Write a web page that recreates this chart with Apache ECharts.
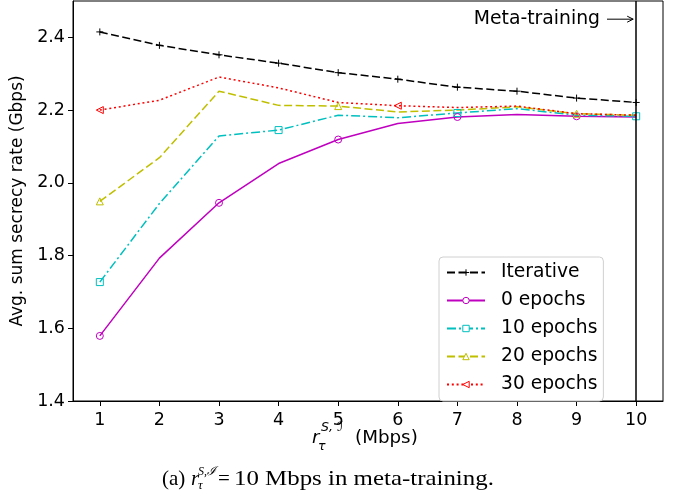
<!DOCTYPE html>
<html>
<head>
<meta charset="utf-8">
<script src="https://cdn.jsdelivr.net/npm/echarts@6/dist/echarts.min.js"></script>
<style>
  html, body { margin: 0; padding: 0; background: #fff; }
  #chart { width: 678px; height: 497px; }
</style>
</head>
<body>
<div id="chart"></div>
<script>
// Sum secrecy rate versus the per-user rate requirement, for the iterative
// baseline and the meta-learned policy after several fine-tuning epochs.
const rates = [1, 2, 3, 4, 5, 6, 7, 8, 9, 10];
const iterative = [2.415, 2.378, 2.352, 2.329, 2.303, 2.285, 2.263, 2.252, 2.233, 2.221];
const epochs0  = [1.579, 1.793, 1.945, 2.053, 2.119, 2.163, 2.181, 2.188, 2.183, 2.181];
const epochs10 = [1.727, 1.943, 2.129, 2.145, 2.186, 2.179, 2.192, 2.204, 2.186, 2.183];
const epochs20 = [1.949, 2.069, 2.252, 2.213, 2.211, 2.195, 2.200, 2.209, 2.190, 2.186];
const epochs30 = [2.200, 2.227, 2.291, 2.261, 2.221, 2.212, 2.207, 2.211, 2.190, 2.186];
const seriesNames = ['Iterative', '0 epochs', '10 epochs', '20 epochs', '30 epochs'];
const xTicks = [1, 2, 3, 4, 5, 6, 7, 8, 9, 10];
const yTicks = [1.4, 1.6, 1.8, 2.0, 2.2, 2.4];
const metaTrainingRate = 10;

const FONT = 'DejaVu Sans';
const SERIF = 'Liberation Serif';
const plus = 'path://M5,0L5,10M0,5L10,5';

function pts(ys) { return rates.map((x, i) => [x, ys[i]]); }

// Marker only on every n-th point.
function every(n, size) {
  return (v, p) => (p.dataIndex % n === 0 ? size : 0);
}

function lineSeries(name, ys, color, dash, symbol, n, size, extra) {
  return Object.assign({
    type: 'line',
    name: name,
    data: pts(ys),
    symbol: symbol,
    symbolSize: every(n, size),
    showAllSymbol: true,
    lineStyle: { color: color, width: 1.5, type: dash },
    itemStyle: { color: 'transparent', borderColor: color, borderWidth: 1 },
    emphasis: { disabled: true },
    z: 3
  }, extra || {});
}

const chart = echarts.init(document.getElementById('chart'), null, { renderer: 'canvas' });

const option = {
  animation: false,
  backgroundColor: '#fff',
  grid: {
    left: 73, right: 15, top: 1, bottom: 96,
    show: true, borderColor: '#000', borderWidth: 1, backgroundColor: 'transparent'
  },
  xAxis: {
    type: 'value', min: 0.55, max: 10.45,
    axisLine: { show: true, lineStyle: { color: '#000', width: 1 } },
    axisTick: { show: true, length: 5, customValues: xTicks, lineStyle: { color: '#000' } },
    axisLabel: { customValues: xTicks, color: '#000', fontFamily: FONT, fontSize: 17.5, margin: 10 },
    splitLine: { show: false }
  },
  yAxis: {
    type: 'value', min: 1.4, max: 2.5,
    axisLine: { show: true, lineStyle: { color: '#000', width: 1 } },
    axisTick: { show: true, length: 5, customValues: yTicks, lineStyle: { color: '#000' } },
    axisLabel: {
      customValues: yTicks, color: '#000', fontFamily: FONT, fontSize: 17.5, margin: 8,
      formatter: v => v.toFixed(1)
    },
    splitLine: { show: false },
    name: 'Avg. sum secrecy rate (Gbps)',
    nameLocation: 'middle', nameGap: 46,
    nameTextStyle: { color: '#000', fontFamily: FONT, fontSize: 17 }
  },
  legend: {
    orient: 'vertical', left: 439, top: 257,
    data: seriesNames,
    itemWidth: 38, itemHeight: 8, itemGap: 9,
    padding: [6, 6, 7, 7],
    borderColor: '#d0d0d0', borderWidth: 1, borderRadius: 4,
    backgroundColor: 'rgba(255,255,255,0.8)',
    itemStyle: { color: '#fff', borderWidth: 1 },
    textStyle: { color: '#000', fontFamily: FONT, fontSize: 18.7, lineHeight: 18, padding: [0, 0, 0, 11] },
    selectedMode: false
  },
  series: [
    lineSeries('Iterative', iterative, '#000000', [8, 3.5], plus, 1, 7, {
      markLine: {
        silent: true, symbol: ['none', 'none'], label: { show: false },
        lineStyle: { color: '#000', width: 1.5, type: 'solid' },
        data: [{ xAxis: metaTrainingRate }]
      }
    }),
    lineSeries('0 epochs', epochs0, '#bf00bf', 'solid', 'circle', 2, 7),
    lineSeries('10 epochs', epochs10, '#00bfbf', [9, 3, 2, 3], 'rect', 3, 7),
    lineSeries('20 epochs', epochs20, '#bfbf00', [8, 3.5], 'triangle', 4, 7),
    lineSeries('30 epochs', epochs30, '#ff0000', [2, 2.8], 'triangle', 5, 7, { symbolRotate: 90 })
  ]
};
chart.setOption(option);

// Annotation arrow pointing at the meta-training rate, axis title and caption.
const tip = chart.convertToPixel({ gridIndex: 0 }, [metaTrainingRate, 2.45]);
const ax = tip[0] - 3, ay = tip[1];

function txt(x, y, s, font, sx) {
  return { type: 'text', x: x, y: y, scaleX: sx || 1, style: { text: s, font: font, fill: '#000', verticalAlign: 'middle' } };
}
const sans = sz => sz + 'px "' + FONT + '"';
const sansIt = sz => 'italic ' + sz + 'px "' + FONT + '"';
const serif = sz => sz + 'px "' + SERIF + '"';
const serifIt = sz => 'italic ' + sz + 'px "' + SERIF + '"';

chart.setOption({
  graphic: [
    { type: 'text', x: 600, y: ay, style: { text: 'Meta-training', font: sans(18.8), fill: '#000', align: 'right', verticalAlign: 'middle' } },
    { type: 'line', shape: { x1: 607, y1: ay, x2: ax, y2: ay }, style: { stroke: '#000', lineWidth: 1 } },
    { type: 'polyline', shape: { points: [[ax - 6, ay - 3], [ax, ay], [ax - 6, ay + 3]] }, style: { stroke: '#000', lineWidth: 1, fill: null } },

    // x-axis title: r_tau^{S,I} (Mbps)
    txt(312, 438, 'r', sansIt(18)),
    txt(318, 447, 'τ', sansIt(12.5)),
    txt(321, 428, 'S, ℐ', sansIt(12.5)),
    txt(355, 438, '(Mbps)', sans(18.3)),

    // caption
    txt(162, 479, '(a)', serif(21)),
    txt(191, 479, 'r', serifIt(21)),
    txt(198, 486, 'τ', serifIt(13)),
    txt(198, 472, 'S,ℐ', serifIt(12)),
    txt(218, 479, '=', serif(21)),
    txt(234, 479, '10 Mbps in meta-training.', serif(21), 1.185)
  ]
});
</script>
</body>
</html>
